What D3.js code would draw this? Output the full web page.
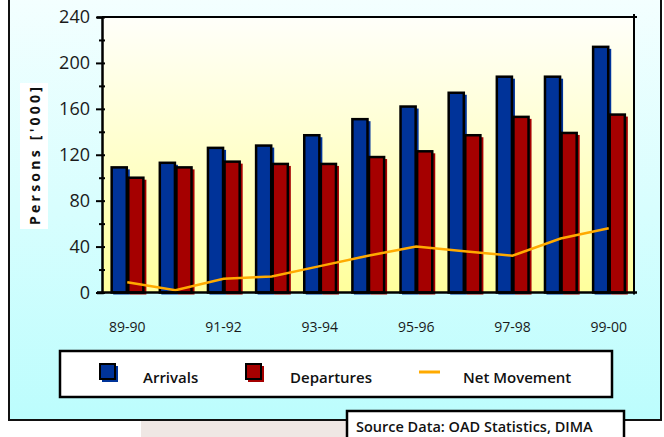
<!DOCTYPE html>
<html>
<head>
<meta charset="utf-8">
<script src="https://cdn.jsdelivr.net/npm/d3@7"></script>
<style>
  body { margin: 0; background: #fff; }
  svg { display: block; font-family: "Open Sans", "DejaVu Sans", sans-serif; }
</style>
</head>
<body>
<svg id="chart" width="664" height="437"></svg>
<script>
// data, in '000 persons
const years = ["89-90","90-91","91-92","92-93","93-94","94-95","95-96","96-97","97-98","98-99","99-00"];
const arrivals =   [109, 113, 126, 128, 137, 151, 162, 174, 188, 188, 214];
const departures = [100, 109, 114, 112, 112, 118, 123, 137, 153, 139, 155];
const netMovement = [9, 2, 12, 14, 23, 32, 40, 36, 32, 47, 56];
const yTicks = [0, 40, 80, 120, 160, 200, 240];
const series = ["Arrivals", "Departures"];
const colors = { Arrivals: "#003399", Departures: "#a50000", Net: "#ffaa00" };

const svg = d3.select("#chart");
const plot = { left: 102, right: 634, top: 17, bottom: 292.5 };

// gradients
const defs = svg.append("defs");
const outerGrad = defs.append("linearGradient").attr("id", "outerGrad")
    .attr("x1", 0).attr("y1", 0).attr("x2", 0).attr("y2", 1);
outerGrad.append("stop").attr("offset", 0).attr("stop-color", "#f4ffff");
outerGrad.append("stop").attr("offset", 1).attr("stop-color", "#bcfdfd");
const plotGrad = defs.append("linearGradient").attr("id", "plotGrad")
    .attr("x1", 0).attr("y1", 0).attr("x2", 0).attr("y2", 1);
plotGrad.append("stop").attr("offset", 0).attr("stop-color", "#fffffa");
plotGrad.append("stop").attr("offset", 1).attr("stop-color", "#ffff9c");

// outer frame
svg.append("rect").attr("x", 9).attr("y", -5).attr("width", 652).attr("height", 425)
    .attr("fill", "url(#outerGrad)").attr("stroke", "#111").attr("stroke-width", 2);
svg.append("rect").attr("x", 141).attr("y", 421).attr("width", 220).attr("height", 20)
    .attr("fill", "#efe7e4");

// plot background
svg.append("rect").attr("x", plot.left).attr("y", plot.top)
    .attr("width", plot.right - plot.left).attr("height", plot.bottom - plot.top)
    .attr("fill", "url(#plotGrad)");

const x0 = d3.scaleBand().domain(years).range([plot.left, plot.right])
    .paddingInner(0.31).paddingOuter(0.18);
const x1 = d3.scaleBand().domain(series).range([0, x0.bandwidth()]);
const y = d3.scaleLinear().domain([0, 240]).range([plot.bottom, plot.top]);

const rows = years.map((yr, i) => ({ year: yr, Arrivals: arrivals[i], Departures: departures[i], Net: netMovement[i] }));

// bars: coloured shadow first, then outlined bar
const groups = svg.selectAll(".grp").data(rows).enter().append("g")
    .attr("class", "grp")
    .attr("transform", d => `translate(${x0(d.year)},0)`);

series.forEach(s => {
    groups.append("rect")
        .attr("x", x1(s) + 2.5)
        .attr("y", d => y(d[s]) + 2)
        .attr("width", x1.bandwidth())
        .attr("height", d => y(0) - y(d[s]))
        .attr("fill", colors[s]);
});
series.forEach(s => {
    groups.append("rect")
        .attr("x", x1(s) + 1)
        .attr("y", d => y(d[s]))
        .attr("width", x1.bandwidth() - 1.5)
        .attr("height", d => y(0) - y(d[s]))
        .attr("fill", colors[s])
        .attr("stroke", "#000")
        .attr("stroke-width", 2.5);
});

// net movement line
const line = d3.line()
    .x(d => x0(d.year) + x0.bandwidth() / 2)
    .y(d => y(d.Net));
svg.append("path").datum(rows)
    .attr("d", line)
    .attr("fill", "none")
    .attr("stroke", colors.Net)
    .attr("stroke-width", 2.5);

// axes
svg.append("line").attr("x1", plot.left).attr("x2", plot.right)
    .attr("y1", plot.top).attr("y2", plot.top).attr("stroke", "#000").attr("stroke-width", 2);
svg.append("line").attr("x1", plot.right).attr("x2", plot.right)
    .attr("y1", plot.top - 3).attr("y2", plot.bottom + 2).attr("stroke", "#000").attr("stroke-width", 2);
svg.append("line").attr("x1", plot.right - 2).attr("x2", plot.right + 3)
    .attr("y1", plot.top).attr("y2", plot.top).attr("stroke", "#000").attr("stroke-width", 2);

const yAxis = d3.axisLeft(y).tickValues(d3.range(0, 241, 20))
    .tickSize(5).tickFormat(d => yTicks.includes(d) ? d : "");
const gy = svg.append("g").attr("transform", `translate(${plot.left},0)`).call(yAxis);
gy.select(".domain").attr("stroke", "#000").attr("stroke-width", 2.5);
gy.selectAll(".tick line").attr("stroke", "#000").attr("stroke-width", 2)
    .attr("x1", 3).attr("x2", d => yTicks.includes(d) ? -6 : -3);
gy.selectAll(".tick text").attr("x", -12).attr("font-size", 18)
    .attr("fill", "#1a1a1a").attr("font-family", "\"Open Sans\", sans-serif");

svg.append("line").attr("x1", plot.left - 5).attr("x2", plot.right + 3)
    .attr("y1", plot.bottom).attr("y2", plot.bottom).attr("stroke", "#000").attr("stroke-width", 2.5);

// x labels, every second year
svg.selectAll(".xlab").data(years.filter((d, i) => i % 2 === 0)).enter().append("text")
    .attr("class", "xlab")
    .attr("x", d => x0(d) + x0.bandwidth() / 2)
    .attr("y", 332)
    .attr("text-anchor", "middle")
    .attr("font-size", 14)
    .attr("fill", "#1a1a1a")
    .text(d => d);

// y axis title
svg.append("rect").attr("x", 20).attr("y", 83).attr("width", 28).attr("height", 146).attr("fill", "#fff");
svg.append("text")
    .attr("transform", "translate(40,156) rotate(-90)")
    .attr("text-anchor", "middle")
    .attr("font-size", 14)
    .attr("font-weight", "bold")
    .attr("textLength", 138)
    .attr("lengthAdjust", "spacing")
    .attr("fill", "#111")
    .text("Persons ['000]");

// legend
const legend = svg.append("g");
legend.append("rect").attr("x", 60).attr("y", 351).attr("width", 552).attr("height", 46)
    .attr("fill", "#fff").attr("stroke", "#000").attr("stroke-width", 2.5);
const legendItems = [
    { name: "Arrivals", key: "Arrivals", mx: 100, tx: 143 },
    { name: "Departures", key: "Departures", mx: 246, tx: 290 },
    { name: "Net Movement", key: "Net", mx: 419, tx: 463 }
];
legendItems.forEach(it => {
    if (it.key === "Net") {
        legend.append("line").attr("x1", it.mx).attr("x2", it.mx + 21)
            .attr("y1", 372).attr("y2", 372).attr("stroke", colors.Net).attr("stroke-width", 3);
    } else {
        legend.append("rect").attr("x", it.mx + 2).attr("y", 366).attr("width", 16).attr("height", 16)
            .attr("fill", colors[it.key]);
        legend.append("rect").attr("x", it.mx).attr("y", 364).attr("width", 15).attr("height", 15)
            .attr("fill", colors[it.key]).attr("stroke", "#000").attr("stroke-width", 2);
    }
    legend.append("text").attr("x", it.tx).attr("y", 383)
        .attr("font-size", 15).attr("font-weight", 600).attr("fill", "#111")
        .text(it.name);
});

// source box
svg.append("rect").attr("x", 347).attr("y", 411).attr("width", 277).attr("height", 40)
    .attr("fill", "#fff").attr("stroke", "#000").attr("stroke-width", 2.5);
svg.append("text").attr("x", 356).attr("y", 432)
    .attr("font-size", 14.5).attr("font-weight", 600).attr("fill", "#111")
    .text("Source Data: OAD Statistics, DIMA");
</script>
</body>
</html>
